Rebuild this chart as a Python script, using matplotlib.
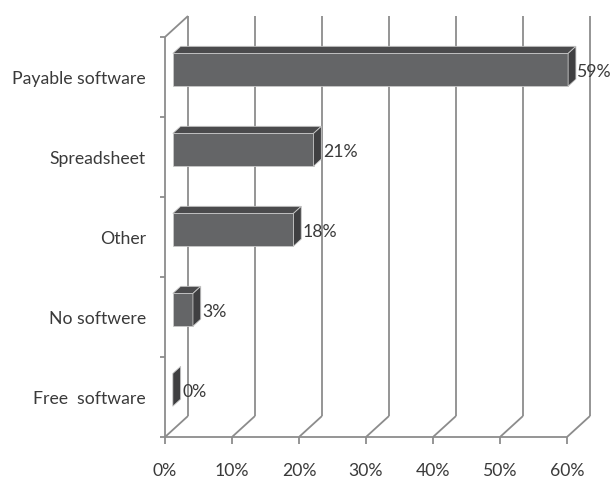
import matplotlib
matplotlib.use('Agg')
import matplotlib.pyplot as plt
from matplotlib.patches import Polygon

categories = ['Free  software', 'No softwere', 'Other', 'Spreadsheet', 'Payable software']
values = [0, 3, 18, 21, 59]
value_labels = ['0%', '3%', '18%', '21%', '59%']
xticks = [0, 10, 20, 30, 40, 50, 60]
xtick_labels = ['0%', '10%', '20%', '30%', '40%', '50%', '60%']

FONT = ['Lato', 'DejaVu Sans']
FS = 12.7
TXT = '#3a3a3a'
GRID = '#8c8c8c'

W, H = 611, 479
fig = plt.figure(figsize=(W / 100, H / 100), dpi=100)
ax = fig.add_axes([0, 0, 1, 1])
ax.axis('off')

x0_px, px_per_pct = 165, 6.7
ybot_px, px_per_cat = 437, 80
ax.set_xlim((0 - x0_px) / px_per_pct, (W - x0_px) / px_per_pct)
ax.set_ylim((ybot_px - H) / px_per_cat - 0.5, ybot_px / px_per_cat - 0.5)

DX = 23 / px_per_pct
DY = 21 / px_per_cat
n = len(categories)
ylo, yhi = -0.5, n - 0.5


def P(v, y, d):
    return (v + d * DX, y + d * DY)


def line(a, b, **kw):
    ax.plot([a[0], b[0]], [a[1], b[1]], color=GRID, lw=1.3, solid_capstyle='butt', zorder=1, **kw)


# back wall gridlines and floor diagonals
for t in xticks:
    line(P(t, ylo, 1), P(t, yhi, 1))
    line(P(t, ylo, 0), P(t, ylo, 1))
    line((t, ylo), (t, ylo - 7 / px_per_cat))
# front x axis
line((xticks[0], ylo), (xticks[-1], ylo))
# front y axis + top diagonal
line((0, ylo), (0, yhi))
line(P(0, yhi, 0), P(0, yhi, 1))
for i in range(n + 1):
    b = ylo + i
    line((0, b), (-5 / px_per_pct, b))

# bars
h = 0.205
d0, d1 = 0.34, 0.68
FRONT = '#646567'
TOP = '#4b4b4d'
SIDE = '#3f3f41'
EDGE = '#c8c8c8'
for i, v in enumerate(values):
    c = i
    front = [P(0, c - h, d0), P(v, c - h, d0), P(v, c + h, d0), P(0, c + h, d0)]
    top = [P(0, c + h, d0), P(v, c + h, d0), P(v, c + h, d1), P(0, c + h, d1)]
    side = [P(v, c - h, d0), P(v, c + h, d0), P(v, c + h, d1), P(v, c - h, d1)]
    if v > 0:
        ax.add_patch(Polygon(front, closed=True, fc=FRONT, ec=EDGE, lw=0.6, zorder=3))
        ax.add_patch(Polygon(top, closed=True, fc=TOP, ec=EDGE, lw=0.6, zorder=3))
    ax.add_patch(Polygon(side, closed=True, fc=SIDE, ec=EDGE, lw=0.6, zorder=3))
    lx, ly = P(v, c, d1)
    ax.text(lx + 1.5 / px_per_pct, c + 0.25 * DY - 0.5 / px_per_cat, value_labels[i],
            ha='left', va='center', fontsize=FS, color=TXT, family=FONT, zorder=4)
    ax.text(-19 / px_per_pct, c - 2 / px_per_cat, categories[i], ha='right', va='center',
            fontsize=FS, color=TXT, family=FONT)

for t, lab in zip(xticks, xtick_labels):
    ax.text(t, ylo - 34 / px_per_cat, lab, ha='center', va='center', fontsize=FS,
            color=TXT, family=FONT)

fig.savefig('out.png', dpi=100, facecolor='white')
